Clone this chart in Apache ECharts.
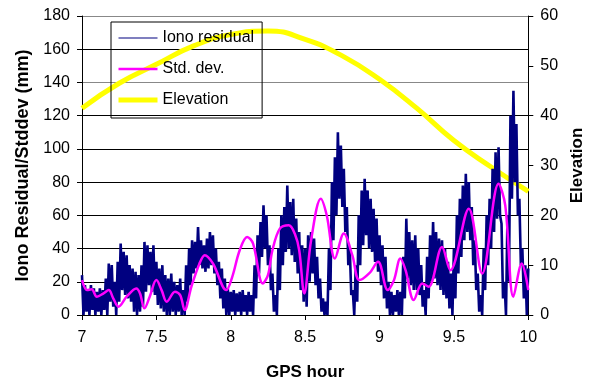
<!DOCTYPE html>
<html><head><meta charset="utf-8">
<script src="https://cdn.jsdelivr.net/npm/echarts@6/dist/echarts.min.js"></script>
<style>html,body{margin:0;padding:0;background:#fff;overflow:hidden}#c{width:594px;height:386px}</style>
</head><body><div id="c"></div>
<script>
// Iono residual: upper / lower envelope of the noisy trace, one value every 0.02 h from 7.00 to 10.00
const ionoStart = 7.0;
const ionoStep = 0.02;
const ionoHigh = [
  24,18,15,18,16,14,16,15,22,31,
  30,20,32,43,38,36,30,28,26,24,
  30,44,42,38,42,32,28,30,24,22,
  25,20,18,22,15,30,40,45,44,53,
  45,42,46,50,48,40,32,28,22,16,
  14,15,13,14,15,12,14,12,30,48,
  56,66,60,42,25,12,40,60,65,78,
  68,70,58,50,42,40,48,50,46,35,
  22,10,8,40,80,95,110,102,88,65,
  40,15,30,60,75,82,75,70,64,58,
  48,42,35,20,14,12,15,14,35,58,
  50,45,48,40,30,15,35,48,56,50,
  46,45,40,32,25,40,60,70,78,85,
  80,65,45,25,12,40,60,70,88,98,
  101,55,20,60,120,135,115,70,40,30,
  28
];
const ionoLow = [
  0,2,0,3,0,2,0,3,0,8,
  5,0,8,15,12,10,8,2,0,2,
  5,14,18,14,12,6,4,2,0,0,
  2,0,2,0,0,8,18,25,28,30,
  28,26,28,30,25,18,10,4,0,0,
  2,0,2,0,2,0,2,0,10,25,
  35,40,30,15,2,0,15,30,38,40,
  36,32,25,15,8,5,20,25,18,10,
  2,0,0,15,45,60,70,65,50,30,
  12,0,8,30,42,48,40,38,32,26,
  18,10,4,0,0,2,0,0,10,22,
  18,15,15,12,5,0,10,20,22,18,
  15,12,10,4,0,10,25,35,45,50,
  45,30,15,2,0,15,30,40,50,58,
  60,10,0,20,70,80,60,30,10,0,
  2
];
// Std. dev.
const sdHours = [7.00,7.035,7.065,7.10,7.145,7.18,7.21,7.245,7.30,7.365,7.39,7.42,7.455,7.50,7.535,7.57,7.625,7.66,7.69,7.735,7.79,7.825,7.88,7.97,8.01,8.06,8.11,8.15,8.215,8.25,8.28,8.33,8.39,8.43,8.46,8.494,8.54,8.605,8.645,8.70,8.76,8.817,8.865,8.93,8.99,9.055,9.097,9.14,9.175,9.23,9.287,9.33,9.42,9.476,9.60,9.69,9.80,9.845,9.90,9.956,10.0];
const sdValues = [21,15,15.5,11,13,15,10,5,11,16,13,4,11,21,15,8,14,12,3,17,31,36,31,15,23,39,47,43,19,24,39,52,54,49,39,13,45,70,60,34,49,36,21,25,32,15,21,34,27,9,19,17,41,27,64,25,79,66,11,31,15];
// Elevation (right axis)
const elevHours = [7.0,7.25,7.5,7.75,8.0,8.25,8.5,8.75,9.0,9.25,9.5,9.75,10.0];
const elevValues = [41.5,46.5,50.3,54.0,56.3,57.0,55.3,52.0,47.3,41.5,35.0,29.7,24.8];
// Axes
const xTicks = {min: 7, max: 10, interval: 0.5};
const leftTicks = {min: 0, max: 180, interval: 20};
const rightTicks = {min: 0, max: 60, interval: 10};

const ionoData = [];
for (let i = 0; i < ionoHigh.length; i++) {
  const h = +(ionoStart + i * ionoStep).toFixed(4);
  ionoData.push([h, ionoHigh[i]]);
  const h2 = +(h + ionoStep / 2).toFixed(4);
  if (h2 <= 10 && i < ionoLow.length) ionoData.push([h2, ionoLow[i]]);
}
const sdData = sdHours.map((h, i) => [h, sdValues[i]]);
const elevData = elevHours.map((h, i) => [h, elevValues[i]]);

const FONT = 'Liberation Sans, Arial, sans-serif';
const chart = echarts.init(document.getElementById('c'), null, {renderer: 'canvas'});
chart.setOption({
  animation: false,
  backgroundColor: '#fff',
  textStyle: {fontFamily: FONT, color: '#000'},
  grid: {left: 82, right: 64, top: 16, bottom: 68},
  legend: {
    orient: 'vertical', left: 111, top: 22,
    data: [
      {name: 'Iono residual', lineStyle: {width: 1.2, color: '#000080'}},
      {name: 'Std. dev.', lineStyle: {width: 2.5, color: '#FF00FF'}},
      {name: 'Elevation', lineStyle: {width: 5, color: '#FFFF00'}}
    ],
    itemWidth: 39, itemHeight: 14, itemGap: 15,
    padding: [8, 8, 10, 5],
    borderColor: '#000', borderWidth: 1,
    itemStyle: {opacity: 0},
    textStyle: {fontFamily: FONT, fontSize: 16, color: '#000'}
  },
  xAxis: {
    type: 'value', min: xTicks.min, max: xTicks.max, interval: xTicks.interval,
    name: 'GPS hour', nameLocation: 'middle', nameGap: 49,
    nameTextStyle: {fontFamily: FONT, fontSize: 17, fontWeight: 'bold', color: '#000'},
    axisLine: {show: true, lineStyle: {color: '#000', width: 1}},
    axisTick: {show: true, length: 5, lineStyle: {color: '#000'}},
    axisLabel: {fontFamily: FONT, fontSize: 16, color: '#000', margin: 15},
    splitLine: {show: false}
  },
  yAxis: [{
    type: 'value', min: leftTicks.min, max: leftTicks.max, interval: leftTicks.interval,
    name: 'Iono Residual/Stddev (mm)', nameLocation: 'middle', nameGap: 49,
    nameTextStyle: {fontFamily: FONT, fontSize: 18, fontWeight: 'bold', color: '#000'},
    axisLine: {show: true, lineStyle: {color: '#000', width: 1}},
    axisTick: {show: true, length: 5, lineStyle: {color: '#000'}},
    axisLabel: {fontFamily: FONT, fontSize: 16, color: '#000', margin: 12},
    splitLine: {show: true, lineStyle: {color: ['#000','#000','#000','#000','#000','#000','#000','#888','#000','#888'], width: 1}}
  }, {
    type: 'value', min: rightTicks.min, max: rightTicks.max, interval: rightTicks.interval,
    name: 'Elevation', nameLocation: 'middle', nameGap: 39,
    nameTextStyle: {fontFamily: FONT, fontSize: 17, fontWeight: 'bold', color: '#000'},
    axisLine: {show: true, lineStyle: {color: '#000', width: 1}},
    axisTick: {show: true, length: 5, lineStyle: {color: '#000'}},
    axisLabel: {fontFamily: FONT, fontSize: 16, color: '#000', margin: 12},
    splitLine: {show: false}
  }],
  series: [{
    name: 'Elevation', type: 'line', yAxisIndex: 1, data: elevData,
    smooth: true, showSymbol: false, symbol: 'none', z: 2,
    lineStyle: {color: '#FFFF00', width: 5}, itemStyle: {color: '#FFFF00'}
  }, {
    name: 'Iono residual', type: 'line', data: ionoData,
    showSymbol: false, symbol: 'none', sampling: null, z: 3,
    lineStyle: {color: '#000080', width: 2.6}, itemStyle: {color: '#000080'}
  }, {
    name: 'Std. dev.', type: 'line', data: sdData,
    smooth: 0.35, showSymbol: false, symbol: 'none', z: 4,
    lineStyle: {color: '#FF00FF', width: 2.5}, itemStyle: {color: '#FF00FF'}
  }]
});
</script></body></html>
